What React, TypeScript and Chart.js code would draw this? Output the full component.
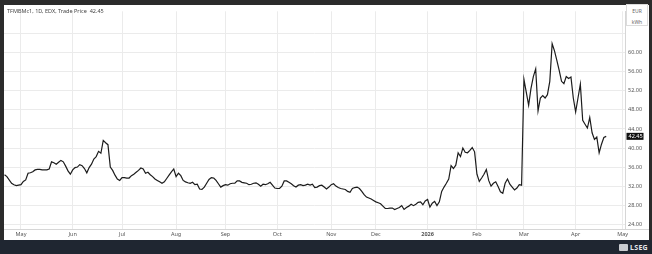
import React, { useEffect, useRef } from "react";
import { Chart, registerables } from "chart.js";

Chart.register(...registerables);

// Trading-session index (0 = 1 May 2025), one entry per plotted session
const sessions = [
  -7, -6, -4, -3, -2, 0, 1, 2, 3, 4, 5, 6, 7, 8, 9, 10, 11, 12, 13, 14, 15, 16, 17, 18, 19, 20,
  21, 22, 23, 24, 25, 26, 27, 28, 29, 30, 31, 32, 33, 34, 35, 36, 37, 38, 39, 40, 41,
  42, 43, 44, 45, 46, 47, 48, 49, 50, 51, 52, 53, 54, 55, 56, 57, 58, 59, 60, 61, 62, 63, 64, 65,
  66, 67, 68, 69, 70, 71, 72, 73, 74, 75, 76, 77, 78, 79, 80, 81, 82, 83, 84, 85, 86, 87, 88, 89, 90,
  91, 92, 93, 94, 95, 96, 97, 98, 99, 100, 101, 102, 103, 104, 105, 106, 107, 108, 109, 110,
  111, 112, 113, 114, 115, 116, 117, 118, 119, 120, 121, 122, 123, 124, 125, 126, 127, 128, 129, 130,
  131, 132, 133, 134, 135, 136, 137, 138, 139, 140,
  141, 142, 143, 144, 145, 146, 147, 148, 149, 150, 151, 152, 153, 154, 155, 156, 157, 158, 159, 160,
  161, 162, 163, 164, 165, 166, 167, 168, 169, 170, 171, 172, 173, 174, 175, 176, 177, 178, 179, 180,
  181, 182, 183, 184, 185, 186, 187, 188, 189,
  190, 191, 192, 193, 194, 195, 196, 197, 198, 199, 200, 201, 202, 203, 204, 205, 206, 207, 208, 209,
  210, 211, 212, 213, 214, 216, 217, 218, 219, 220,
  221, 222, 223, 224, 225, 226, 227, 228, 229, 230, 231, 232, 233, 234, 235, 236, 237, 238, 239, 240,
  241, 242, 243, 244, 245, 246, 247, 248, 249,
];

// Trade price, EUR/MWh
const prices = [
  34.4, 34.0, 32.6, 32.3, 32.1, 32.3, 33.0, 33.3, 34.7, 34.8, 35.0, 35.4, 35.5, 35.5, 35.4, 35.4, 35.4, 35.6, 37.1, 36.9, 36.6, 37.0, 37.4, 37.1, 36.2, 35.2,
  34.5, 35.4, 35.9, 36.0, 36.5, 36.3, 35.7, 34.8, 35.9, 36.6, 37.7, 38.2, 39.3, 38.9, 41.6, 41.1, 40.7, 36.0, 35.3, 34.3, 33.5,
  33.2, 33.8, 33.8, 33.7, 33.7, 34.2, 34.5, 34.9, 35.3, 35.8, 35.6, 34.7, 34.9, 34.4, 34.0, 33.5, 33.2, 32.9, 32.6, 32.9, 33.6, 34.3, 35.0, 35.6,
  34.0, 34.7, 34.2, 33.2, 32.9, 32.7, 32.6, 32.8, 32.3, 32.4, 31.4, 31.3, 31.8, 32.6, 33.4, 33.8, 33.7, 33.2, 32.5, 31.8, 32.1, 32.3, 32.2, 32.5, 32.6,
  32.6, 33.1, 33.1, 32.8, 32.7, 32.6, 32.3, 32.4, 32.6, 32.7, 32.4, 32.0, 32.4, 32.3, 32.5, 32.8, 32.2, 31.6, 31.5, 31.5,
  32.0, 33.1, 33.1, 32.8, 32.5, 32.1, 31.8, 32.2, 32.3, 32.1, 32.2, 32.4, 32.2, 32.4, 31.7, 31.8, 32.1, 32.2, 31.8, 31.4,
  31.8, 32.3, 32.5, 32.0, 31.7, 31.5, 31.4, 31.3, 30.9, 30.7,
  31.5, 31.7, 31.8, 31.5, 30.9, 30.2, 29.7, 29.5, 29.3, 29.0, 28.7, 28.5, 28.3, 27.8, 27.3, 27.3, 27.4, 27.4, 27.1, 27.3,
  27.5, 27.9, 27.1, 27.5, 27.8, 28.2, 27.9, 28.2, 28.6, 28.7, 28.1, 28.9, 29.2, 27.6, 28.4, 28.8, 27.9, 28.7, 30.9, 31.8,
  32.6, 33.5, 36.3, 35.7, 36.4, 39.0, 38.2, 40.0, 39.1,
  39.0, 39.5, 40.1, 39.2, 34.5, 33.0, 33.7, 34.5, 35.5, 33.2, 32.0, 32.6, 32.9, 31.9, 30.8, 30.5, 32.6, 33.5, 32.4, 31.8,
  31.2, 31.6, 32.3, 32.2, 54.4, 49.0, 52.5, 55.0, 56.6, 47.8,
  50.5, 51.0, 50.5, 51.2, 54.0, 61.9, 60.4, 58.4, 56.3, 54.0, 53.5, 55.0, 54.6, 54.9, 50.5, 47.6, 50.5, 53.4, 45.8, 45.0,
  44.2, 46.4, 43.2, 41.8, 42.3, 39.0, 40.8, 42.2, 42.45,
];

// Month boundaries (session index of first trading day) and their labels
const monthTickSessions = [0, 22, 43, 66, 87, 109, 132, 151, 173, 194, 214, 236, 256];
const monthTickLabels = ["May", "Jun", "Jul", "Aug", "Sep", "Oct", "Nov", "Dec", "2026", "Feb", "Mar", "Apr", "May"];
const priceTicks = [24, 28, 32, 36, 40, 44, 48, 52, 56, 60, 64];

const titleText = "TFMBMc1, 1D, EDX, Trade Price  42.45";
const unitTop = "EUR";
const unitBottom = "kWh";
const brandText = "LSEG";
const lastPrice = prices[prices.length - 1];

const FONT = "'Noto Sans', 'Open Sans', sans-serif";

const lastPricePlugin = {
  id: "lastPriceTag",
  afterDraw(chart: any) {
    const { ctx, chartArea, scales } = chart;
    const y = scales.y.getPixelForValue(lastPrice);
    ctx.save();
    // x axis baseline continues under the price scale
    ctx.strokeStyle = "#d6d6d6";
    ctx.lineWidth = 1;
    ctx.beginPath();
    ctx.moveTo(chartArea.right, Math.round(chartArea.bottom) + 0.5);
    ctx.lineTo(chart.width, Math.round(chartArea.bottom) + 0.5);
    ctx.stroke();
    const left = chartArea.right + 1.5;
    ctx.fillStyle = "#111111";
    ctx.fillRect(left, y - 3.5, 17, 7);
    ctx.fillStyle = "#ffffff";
    ctx.font = `5.5px ${FONT}`;
    ctx.textBaseline = "middle";
    ctx.textAlign = "left";
    ctx.fillText(lastPrice.toFixed(2), left + 2, y + 0.3);
    ctx.restore();
  },
};

export default function App() {
  const canvasRef = useRef<HTMLCanvasElement | null>(null);

  useEffect(() => {
    const canvas = canvasRef.current;
    if (!canvas) return;
    const chart = new Chart(canvas, {
      type: "line",
      data: {
        datasets: [
          {
            data: sessions.map((s, i) => ({ x: s, y: prices[i] })),
            borderColor: "#1c1c1c",
            borderWidth: 1.2,
            pointRadius: 0,
            tension: 0,
            fill: false,
          },
        ],
      },
      options: {
        animation: false,
        responsive: false,
        maintainAspectRatio: false,
        layout: { padding: 0 },
        plugins: {
          legend: { display: false },
          tooltip: { enabled: false },
          title: { display: false },
        },
        scales: {
          x: {
            type: "linear",
            min: -7.23,
            max: 257,
            afterBuildTicks: (scale: any) => {
              scale.ticks = monthTickSessions.map((v) => ({ value: v }));
            },
            afterFit: (scale: any) => {
              scale.height = 11;
            },
            ticks: {
              autoSkip: false,
              maxRotation: 0,
              minRotation: 0,
              padding: 2,
              color: "#555555",
              font: (ctx: any) => ({
                family: FONT,
                size: 5.5,
                weight: ctx.tick && ctx.tick.value === 173 ? "bold" : "normal",
              }),
              callback: (_v: any, i: number) => monthTickLabels[i],
            },
            grid: { color: "#ebebeb", lineWidth: 1, drawTicks: false },
            border: { color: "#d6d6d6" },
          },
          y: {
            type: "linear",
            position: "right",
            min: 23,
            max: 68.7,
            afterBuildTicks: (scale: any) => {
              scale.ticks = priceTicks.map((v) => ({ value: v }));
            },
            afterFit: (scale: any) => {
              scale.width = 24;
            },
            ticks: {
              padding: 3,
              color: "#555555",
              font: { family: FONT, size: 5.5 },
              callback: (v: any) => (Number(v) === 64 ? "" : Number(v).toFixed(2)),
            },
            grid: { color: "#ebebeb", lineWidth: 1, drawTicks: false },
            border: { color: "#d6d6d6" },
          },
        },
      },
      plugins: [lastPricePlugin],
    });
    return () => chart.destroy();
  }, []);

  return (
    <div
      style={{
        position: "fixed",
        left: 0,
        top: 0,
        width: 652,
        height: 254,
        background: "#2b2b2b",
        overflow: "hidden",
        fontFamily: FONT,
      }}
    >
      <div
        style={{
          position: "absolute",
          left: 4,
          top: 5,
          width: 645,
          height: 235,
          background: "#ffffff",
        }}
      >
        <canvas ref={canvasRef} width={645} height={235} style={{ display: "block" }} />
        <div
          style={{
            position: "absolute",
            left: 3,
            top: 2,
            fontSize: 5.5,
            lineHeight: "8px",
            color: "#444444",
            whiteSpace: "pre",
          }}
        >
          {titleText}
        </div>
        <div
          style={{
            position: "absolute",
            left: 622,
            top: -1,
            width: 22,
            height: 22,
            border: "1px solid #dcdcdc",
            background: "#ffffff",
            color: "#666666",
            fontSize: 5,
            lineHeight: "11px",
            textAlign: "center",
            boxSizing: "border-box",
            paddingTop: 1,
          }}
        >
          <div>{unitTop}</div>
          <div>{unitBottom}</div>
        </div>
      </div>
      <div
        style={{
          position: "absolute",
          left: 0,
          top: 240,
          width: 652,
          height: 14,
          background: "#1f2631",
        }}
      >
        <div
          style={{
            position: "absolute",
            right: 4,
            top: 3,
            height: 9,
            display: "flex",
            alignItems: "center",
            gap: 2,
          }}
        >
          <div
            style={{
              width: 9,
              height: 7,
              background: "#c9ccd1",
              borderRadius: 1,
            }}
          />
          <span
            style={{
              color: "#e6e8ec",
              fontSize: 7,
              fontWeight: "bold",
              letterSpacing: 0.3,
              lineHeight: "9px",
            }}
          >
            {brandText}
          </span>
        </div>
      </div>
    </div>
  );
}
